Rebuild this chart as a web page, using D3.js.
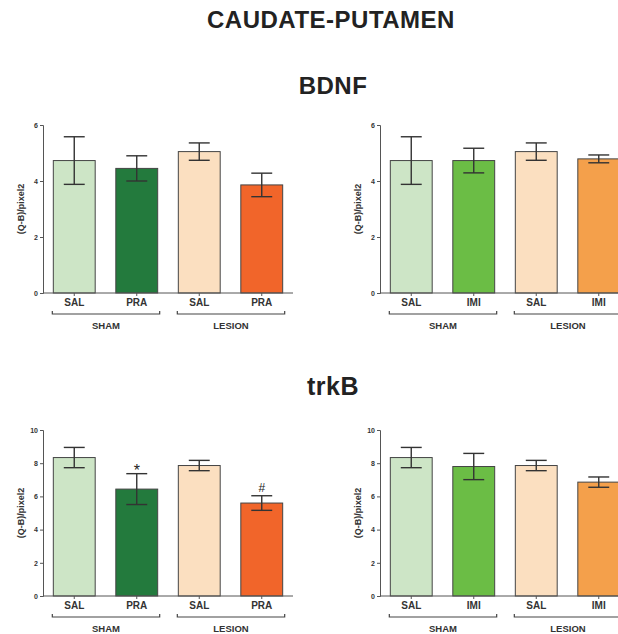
<!DOCTYPE html>
<meta charset="utf-8">
<style>
    body { margin: 0; background: #fff; }
    svg { display: block; font-family: "Liberation Sans", Arial, sans-serif; }
    .axis path, .axis line { stroke: #555; }
    .axis text { font-size: 7px; font-weight: bold; fill: #333; }
</style>
<svg width="618" height="634"></svg>
<script src="https://d3js.org/d3.v7.min.js"></script>
<script>

    var catsPRA = ["SAL", "PRA", "SAL", "PRA"],
        catsIMI = ["SAL", "IMI", "SAL", "IMI"],
        groups = ["SHAM", "LESION"];

    var bdnfPraMeans = [4.73, 4.45, 5.05, 3.86],
        bdnfPraErr = [0.85, 0.45, 0.31, 0.42],
        bdnfImiMeans = [4.73, 4.73, 5.05, 4.79],
        bdnfImiErr = [0.85, 0.44, 0.31, 0.14];

    var trkbPraMeans = [8.34, 6.44, 7.86, 5.60],
        trkbPraErr = [0.61, 0.93, 0.31, 0.44],
        trkbImiMeans = [8.34, 7.80, 7.86, 6.86],
        trkbImiErr = [0.61, 0.79, 0.31, 0.31],
        trkbPraMarks = ["", "*", "", "#"];

    var bdnfTicks = [0, 2, 4, 6],
        trkbTicks = [0, 2, 4, 6, 8, 10];

    var praColors = ["#cde5c6", "#237a3d", "#fbdfc0", "#f1652a"],
        imiColors = ["#cde5c6", "#6bbd45", "#fbdfc0", "#f4a04b"];

    var svg = d3.select("svg");

    function title(txt, x, y, size) {
        svg.append("text").attr("x", x).attr("y", y).attr("text-anchor", "middle")
            .style("font-size", size + "px").style("font-weight", "bold")
            .style("letter-spacing", "0.5px").attr("fill", "#222")
            .text(txt);
    }
    title("CAUDATE-PUTAMEN", 331, 28, 24);
    title("BDNF", 333, 94, 24);
    title("trkB", 333, 395, 25);

    function panel(x0, yTop, yBottom, cats, means, errs, colors, ticks, marks) {
        var n = cats.length;
        var idx = d3.range(n);
        var x = d3.scaleBand().domain(idx).range([x0, x0 + 250])
            .paddingInner(0.33).paddingOuter(0.165);
        var y = d3.scaleLinear().domain([0, d3.max(ticks)]).range([yBottom, yTop]);
        var g = svg.append("g");

        g.selectAll(".bar").data(idx).enter().append("rect")
            .attr("class", "bar")
            .attr("x", function(i) { return x(i); })
            .attr("y", function(i) { return y(means[i]); })
            .attr("width", x.bandwidth())
            .attr("height", function(i) { return yBottom - y(means[i]); })
            .attr("fill", function(i) { return colors[i]; })
            .attr("stroke", "#444").attr("stroke-width", 1);

        var cap = x.bandwidth() / 4;
        var eb = g.selectAll(".err").data(idx).enter().append("g").attr("class", "err")
            .attr("stroke", "#333").attr("stroke-width", 1.4);
        eb.append("line")
            .attr("x1", function(i) { return x(i) + x.bandwidth() / 2; })
            .attr("x2", function(i) { return x(i) + x.bandwidth() / 2; })
            .attr("y1", function(i) { return y(means[i] + errs[i]); })
            .attr("y2", function(i) { return y(means[i] - errs[i]); });
        eb.append("line")
            .attr("x1", function(i) { return x(i) + x.bandwidth() / 2 - cap; })
            .attr("x2", function(i) { return x(i) + x.bandwidth() / 2 + cap; })
            .attr("y1", function(i) { return y(means[i] + errs[i]); })
            .attr("y2", function(i) { return y(means[i] + errs[i]); });
        eb.append("line")
            .attr("x1", function(i) { return x(i) + x.bandwidth() / 2 - cap; })
            .attr("x2", function(i) { return x(i) + x.bandwidth() / 2 + cap; })
            .attr("y1", function(i) { return y(means[i] - errs[i]); })
            .attr("y2", function(i) { return y(means[i] - errs[i]); });

        if (marks) {
            g.selectAll(".mark").data(idx.filter(function(i) { return marks[i]; }))
                .enter().append("text")
                .attr("x", function(i) { return x(i) + x.bandwidth() / 2; })
                .attr("y", function(i) { return y(means[i] + errs[i]) - 4; })
                .attr("text-anchor", "middle")
                .style("font-size", function(i) { return marks[i] === "*" ? "16px" : "12px"; })
                .attr("dy", function(i) { return marks[i] === "*" ? "6" : "0"; })
                .attr("fill", "#222")
                .text(function(i) { return marks[i]; });
        }

        g.append("g").attr("class", "axis")
            .attr("transform", "translate(" + x0 + ",0)")
            .call(d3.axisLeft(y).tickValues(ticks).tickSize(3).tickPadding(2).tickFormat(d3.format("d")));

        g.append("line").attr("x1", x0).attr("x2", x0 + 250)
            .attr("y1", yBottom).attr("y2", yBottom)
            .attr("stroke", "#555").attr("stroke-width", 1);

        g.selectAll(".xtick").data(idx).enter().append("line")
            .attr("x1", function(i) { return x(i) + x.bandwidth() / 2; })
            .attr("x2", function(i) { return x(i) + x.bandwidth() / 2; })
            .attr("y1", yBottom).attr("y2", yBottom + 3)
            .attr("stroke", "#555");

        g.selectAll(".cat").data(idx).enter().append("text")
            .attr("x", function(i) { return x(i) + x.bandwidth() / 2; })
            .attr("y", yBottom + 13)
            .attr("text-anchor", "middle")
            .style("font-size", "10px").style("font-weight", "bold").attr("fill", "#333")
            .text(function(i) { return cats[i]; });

        groups.forEach(function(name, k) {
            var a = x(k * 2) - 1, b = x(k * 2 + 1) + x.bandwidth() + 2;
            var by = yBottom + 21;
            g.append("path")
                .attr("d", "M" + a + "," + (by - 3) + "V" + by + "H" + b + "V" + (by - 3))
                .attr("fill", "none").attr("stroke", "#444").attr("stroke-width", 1.2);
            g.append("text")
                .attr("x", (a + b) / 2).attr("y", by + 15)
                .attr("text-anchor", "middle")
                .style("font-size", "9.5px").style("font-weight", "bold").attr("fill", "#333")
                .text(name);
        });

        g.append("text")
            .attr("transform", "translate(" + (x0 - 19) + "," + ((yTop + yBottom) / 2) + ") rotate(-90)")
            .attr("text-anchor", "middle")
            .style("font-size", "9px").style("font-weight", "bold").attr("fill", "#333")
            .text("(Q-B)/pixel2");
    }

    panel(43, 125, 293, catsPRA, bdnfPraMeans, bdnfPraErr, praColors, bdnfTicks);
    panel(380, 125, 293, catsIMI, bdnfImiMeans, bdnfImiErr, imiColors, bdnfTicks);
    panel(43, 430, 596, catsPRA, trkbPraMeans, trkbPraErr, praColors, trkbTicks, trkbPraMarks);
    panel(380, 430, 596, catsIMI, trkbImiMeans, trkbImiErr, imiColors, trkbTicks);
</script>
